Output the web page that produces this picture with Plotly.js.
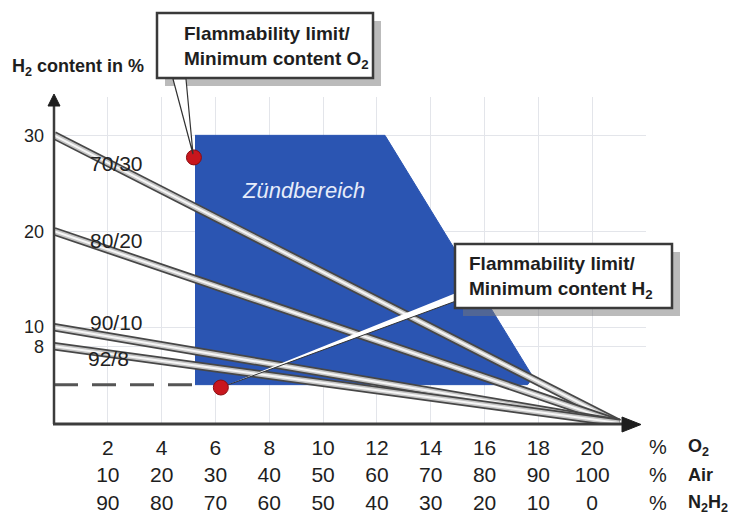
<!DOCTYPE html>
<html>
<head>
<meta charset="utf-8">
<script src="https://cdn.plot.ly/plotly-3.0.1.min.js"></script>
<style>html,body{margin:0;padding:0;background:#fff;}#chart{width:730px;height:517px;}</style>
</head>
<body>
<div id="chart"></div>
<script>
// ---- data ----
const o2Ticks   = [2, 4, 6, 8, 10, 12, 14, 16, 18, 20];
const airTicks  = [10, 20, 30, 40, 50, 60, 70, 80, 90, 100];
const n2h2Ticks = [90, 80, 70, 60, 50, 40, 30, 20, 10, 0];
const yTicks    = [8, 10, 20, 30];
const mixLabels = ['70/30', '80/20', '90/10', '92/8'];
const h2Start   = [30, 20, 10, 8];     // H2 % of the forming-gas mixtures at 0 % air
const o2OfAir   = 21;                  // all mixtures reach 0 % H2 at pure air
const zoneO2    = [5.24, 12.3, 17.8, 17.6, 5.24];   // Zündbereich outline
const zoneH2    = [30, 30, 4.8, 4.0, 4.0];
const limitO2   = [5.2, 6.2];          // red limit points
const limitH2   = [27.7, 3.7];
const h2Lower   = 4.0;                 // dashed lower limit
const h2LowerO2 = [0, 5.24];

// ---- geometry helpers (layout only) ----
const L = 54, T = 97, PW = 592, PH = 326, XR = 22, YR = 34;
const xp = px => (px - L) / PW;
const yp = py => (T + PH - py) / PH;
const xd = px => xp(px) * XR;
const yd = py => yp(py) * YR;
const pathPx = pts => 'M' + pts.map(p => xp(p[0]) + ',' + yp(p[1])).join(' L') + ' Z';

const traces = [];
// ignition zone
traces.push({x: zoneO2, y: zoneH2, type: 'scatter', mode: 'lines', fill: 'toself',
  fillcolor: '#2b55b2', line: {color: '#2b55b2', width: 1}, hoverinfo: 'skip'});
// dashed lower flammability line
traces.push({x: h2LowerO2, y: [h2Lower, h2Lower], type: 'scatter', mode: 'lines',
  line: {color: '#555', width: 3, dash: '24px,14px'}, hoverinfo: 'skip'});
// mixture tubes
h2Start.forEach(h => {
  const xs = [0, o2OfAir], ys = [h, 0];
  traces.push({x: xs, y: ys, type: 'scatter', mode: 'lines', line: {color: '#474747', width: 8.5}, hoverinfo: 'skip'});
  traces.push({x: xs, y: ys, type: 'scatter', mode: 'lines', line: {color: '#c4c4c4', width: 5}, hoverinfo: 'skip'});
  traces.push({x: xs, y: ys, type: 'scatter', mode: 'lines', line: {color: '#f6f6f6', width: 2}, hoverinfo: 'skip'});
});
// leader of lower callout (above tubes)
traces.push({x: [xd(456), xd(456), limitO2[1]], y: [yd(293), yd(301), limitH2[1]],
  type: 'scatter', mode: 'lines', fill: 'toself', fillcolor: '#ffffff',
  line: {color: '#333', width: 1}, hoverinfo: 'skip'});
// red limit points
traces.push({x: limitO2, y: limitH2, type: 'scatter', mode: 'markers', cliponaxis: false,
  marker: {size: 15, color: '#c8161d', line: {color: '#8a0c10', width: 1}}, hoverinfo: 'skip'});

const ann = [];
const bold = {family: 'Liberation Sans, Arial, sans-serif', size: 19, color: '#1e1e1e', weight: 'bold'};
ann.push({xref: 'paper', yref: 'paper', x: xp(10), y: yp(67), xanchor: 'left', yanchor: 'middle',
  text: '<b>H<sub>2</sub> content in %</b>', showarrow: false, font: Object.assign({}, bold, {size: 18})});
ann.push({xref: 'paper', yref: 'paper', x: xp(182), y: yp(47), xanchor: 'left', yanchor: 'middle', align: 'left',
  text: '<b>Flammability limit/<br>Minimum content O<sub>2</sub></b>', showarrow: false, font: bold});
ann.push({xref: 'paper', yref: 'paper', x: xp(467), y: yp(277), xanchor: 'left', yanchor: 'middle', align: 'left',
  text: '<b>Flammability limit/<br>Minimum content H<sub>2</sub></b>', showarrow: false, font: bold});
ann.push({x: xd(303), y: yd(190), xanchor: 'center', yanchor: 'middle', text: 'Zündbereich', showarrow: false,
  font: {family: 'Liberation Sans, Arial, sans-serif', size: 22, color: '#e6ecfa', style: 'italic'}});
const labelPx = [[116, 163], [116, 240], [116, 322], [108, 358]];
mixLabels.forEach((t, i) => {
  ann.push({x: xd(labelPx[i][0]), y: yd(labelPx[i][1]), xanchor: 'center', yanchor: 'middle', text: t, showarrow: false,
    font: {family: 'Liberation Sans, Arial, sans-serif', size: 21, color: '#222'}});
});
const rowNames = ['O<sub>2</sub>', 'Air', 'N<sub>2</sub>H<sub>2</sub>'];
[447, 475, 503].forEach((py, i) => {
  ann.push({xref: 'paper', yref: 'paper', x: xp(658), y: yp(py), xanchor: 'center', yanchor: 'middle', text: '%', showarrow: false,
    font: {family: 'Liberation Sans, Arial, sans-serif', size: 20, color: '#222'}});
  ann.push({xref: 'paper', yref: 'paper', x: xp(686), y: yp(py), xanchor: 'left', yanchor: 'middle', text: '<b>' + rowNames[i] + '</b>',
    showarrow: false, font: Object.assign({}, bold, {size: 18})});
});

const shapes = [];
// axes
shapes.push({type: 'line', xref: 'paper', yref: 'paper', x0: xp(54), y0: yp(424), x1: xp(54), y1: yp(104),
  line: {color: '#3c3c3c', width: 2.5}});
shapes.push({type: 'path', xref: 'paper', yref: 'paper', path: pathPx([[48, 106], [60, 106], [54, 94]]),
  fillcolor: '#1e1e1e', line: {color: '#1e1e1e', width: 1}});
shapes.push({type: 'line', xref: 'paper', yref: 'paper', x0: xp(53), y0: yp(424), x1: xp(626), y1: yp(424),
  line: {color: '#3c3c3c', width: 3}});
shapes.push({type: 'path', xref: 'paper', yref: 'paper', path: pathPx([[622, 417], [641, 424.5], [622, 432]]),
  fillcolor: '#1e1e1e', line: {color: '#1e1e1e', width: 1}});
// callout boxes with shadow
[[157, 13, 373, 78], [455, 244, 672, 308]].forEach(b => {
  shapes.push({type: 'rect', xref: 'paper', yref: 'paper', x0: xp(b[0] + 8), y0: yp(b[1] + 8), x1: xp(b[2] + 8), y1: yp(b[3] + 8),
    fillcolor: 'rgba(120,120,120,0.5)', line: {width: 0}, layer: 'above'});
  shapes.push({type: 'rect', xref: 'paper', yref: 'paper', x0: xp(b[0]), y0: yp(b[1]), x1: xp(b[2]), y1: yp(b[3]),
    fillcolor: '#ffffff', line: {color: '#3a3a3a', width: 2.5}, layer: 'above'});
});
// leader of upper callout
shapes.push({type: 'path', xref: 'paper', yref: 'paper', path: pathPx([[173, 79], [186, 79], [193, 154]]),
  fillcolor: '#ffffff', line: {color: '#333', width: 1.2}, layer: 'above'});

const layout = {
  width: 730, height: 517,
  margin: {l: L, r: 730 - L - PW, t: T, b: 517 - T - PH, pad: 0},
  paper_bgcolor: '#ffffff', plot_bgcolor: '#ffffff',
  showlegend: false,
  xaxis: {range: [0, XR], tickmode: 'array', tickvals: o2Ticks,
    ticktext: o2Ticks.map((v, i) => v + '<br>' + airTicks[i] + '<br>' + n2h2Ticks[i]),
    showgrid: true, gridcolor: '#e3e5ea', gridwidth: 1, zeroline: false, showline: false, ticks: '',
    tickfont: {family: 'Liberation Sans, Arial, sans-serif', size: 21, color: '#1e1e1e'},
    ticklabelstandoff: 10, fixedrange: true},
  yaxis: {range: [0, YR], tickmode: 'array', tickvals: yTicks, ticktext: yTicks.map(String),
    showgrid: true, gridcolor: '#e3e5ea', gridwidth: 1, zeroline: false, showline: false, ticks: '',
    tickfont: {family: 'Liberation Sans, Arial, sans-serif', size: 18, color: '#1e1e1e'},
    ticklabelstandoff: 9, fixedrange: true},
  shapes: shapes,
  annotations: ann
};
Plotly.newPlot('chart', traces, layout, {staticPlot: true, displayModeBar: false});
</script>
</body>
</html>
